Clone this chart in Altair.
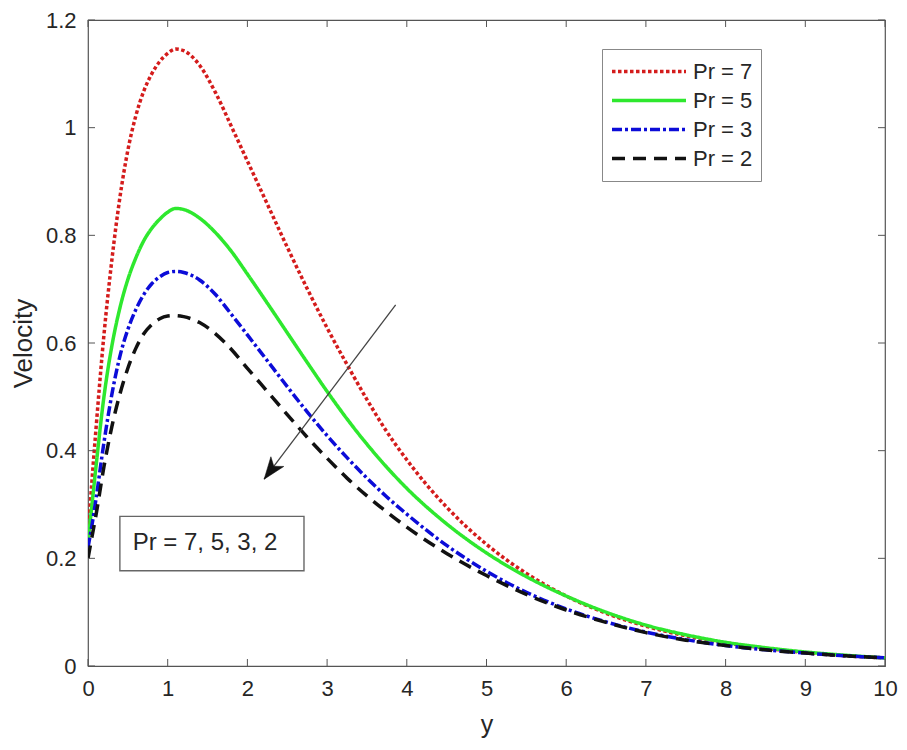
import altair as alt
import pandas as pd

# ---- data ----
Y_POS = [0, 0.05, 0.1, 0.2, 0.3, 0.4, 0.5, 0.6, 0.7, 0.8, 0.9, 1.0, 1.1, 1.2, 1.4, 1.6,
         1.8, 2.0, 2.25, 2.5, 2.75, 3.0, 3.25, 3.5, 3.75, 4.0, 4.5, 5.0, 5.5, 6.0, 6.5,
         7.0, 7.5, 8.0, 8.5, 9.0, 9.5, 10]

PR7 = [0.24, 0.345, 0.44, 0.615, 0.755, 0.87, 0.958, 1.022, 1.068, 1.10, 1.123, 1.138,
       1.146, 1.143, 1.116, 1.065, 1.002, 0.938, 0.858, 0.778, 0.701, 0.628, 0.560, 0.495,
       0.435, 0.383, 0.295, 0.226, 0.172, 0.130, 0.098, 0.074, 0.056, 0.043, 0.033, 0.025,
       0.019, 0.015]
PR5 = [0.23, 0.30, 0.37, 0.50, 0.595, 0.665, 0.718, 0.758, 0.79, 0.813, 0.83, 0.843,
       0.85, 0.848, 0.832, 0.805, 0.77, 0.728, 0.674, 0.619, 0.564, 0.51, 0.459, 0.412,
       0.369, 0.33, 0.264, 0.21, 0.166, 0.13, 0.10, 0.076, 0.058, 0.044, 0.034, 0.026,
       0.02, 0.015]
PR3 = [0.22, 0.262, 0.31, 0.415, 0.505, 0.575, 0.625, 0.662, 0.69, 0.71, 0.723, 0.731,
       0.733, 0.731, 0.717, 0.69, 0.653, 0.615, 0.567, 0.519, 0.472, 0.428, 0.387, 0.349,
       0.314, 0.282, 0.224, 0.176, 0.137, 0.106, 0.082, 0.063, 0.049, 0.038, 0.03, 0.024,
       0.019, 0.015]
PR2 = [0.20, 0.24, 0.28, 0.37, 0.445, 0.505, 0.553, 0.59, 0.617, 0.634, 0.645, 0.65,
       0.651, 0.649, 0.638, 0.617, 0.588, 0.553, 0.51, 0.467, 0.425, 0.386, 0.349, 0.316,
       0.286, 0.258, 0.209, 0.168, 0.133, 0.104, 0.081, 0.062, 0.048, 0.038, 0.03, 0.024,
       0.019, 0.015]

SERIES = ["Pr = 7", "Pr = 5", "Pr = 3", "Pr = 2"]
COLORS = ["#d41c1c", "#2ee82e", "#0c0cd8", "#111111"]
DASHES = [[3.5, 2.5], [1, 0], [10, 3, 3, 3], [13, 8]]

X_TICKS = list(range(0, 11))
Y_TICKS = [0, 0.2, 0.4, 0.6, 0.8, 1.0, 1.2]

ANNOT_TEXT = "Pr = 7, 5, 3, 2"
ANNOT_BOX = {"x": 0.4, "x2": 2.71, "y": 0.177, "y2": 0.278}
ANNOT_POS = {"x": 0.56, "y": 0.228}
ARROW = {"x": 3.86, "y": 0.671, "x2": 2.21, "y2": 0.347}

FONT = "Liberation Sans"
TXT = "#262626"
AX = "#555555"
W, H = 797, 646
TOP = 12

rows = []
for name, vals in zip(SERIES, [PR7, PR5, PR3, PR2]):
    for xv, yv in zip(Y_POS, vals):
        rows.append({"pos": xv, "vel": yv, "series": name})
df = pd.DataFrame(rows)

xs = alt.Scale(domain=[0, 10], nice=False, zero=False)
ys = alt.Scale(domain=[0, 1.2], nice=False, zero=False)

x_axis = alt.Axis(values=X_TICKS, title="y", ticks=False, domain=False, grid=False,
                  labelFlush=False, labelFontSize=22, labelFont=FONT, labelColor=TXT,
                  labelPadding=12, titleFontSize=25, titleFont=FONT, titleColor=TXT,
                  titleFontWeight="normal", titlePadding=13)
y_axis = alt.Axis(values=Y_TICKS, format="~g", title="Velocity", ticks=False, domain=False,
                  grid=False, labelFlush=False, labelFontSize=22, labelFont=FONT,
                  labelColor=TXT, labelPadding=12, titleFontSize=26, titleFont=FONT,
                  titleColor=TXT, titleFontWeight="normal", titlePadding=9)


def X(field):
    return alt.X(field, scale=xs, axis=x_axis)


def Y(field):
    return alt.Y(field, scale=ys, axis=y_axis)


legend = alt.Legend(title=None, orient="none", legendX=514, legendY=33 - (TOP - 8),
                    symbolType="stroke", symbolSize=5476, symbolStrokeWidth=3.5,
                    labelFontSize=22, labelFont=FONT, labelColor=TXT, labelOffset=5,
                    padding=8, clipHeight=29, rowPadding=0, strokeColor="#888888",
                    fillColor="white", labelLimit=300)

lines = alt.Chart(df).mark_line(strokeWidth=3.5, strokeCap="butt", interpolate="monotone",
                                clip=True).encode(
    x=X("pos:Q"),
    y=Y("vel:Q"),
    color=alt.Color("series:N", scale=alt.Scale(domain=SERIES, range=COLORS), legend=legend),
    strokeDash=alt.StrokeDash("series:N", scale=alt.Scale(domain=SERIES, range=DASHES),
                              legend=legend),
    order=alt.Order("pos:Q"),
)

box_df = pd.DataFrame([ANNOT_BOX])
box = alt.Chart(box_df).mark_rect(fill="white", stroke="#666666", strokeWidth=1.4).encode(
    x=X("x:Q"), x2="x2:Q", y=Y("y:Q"), y2="y2:Q",
)
txt_df = pd.DataFrame([{**ANNOT_POS, "t": ANNOT_TEXT}])
txt = alt.Chart(txt_df).mark_text(align="left", baseline="middle", fontSize=24, font=FONT,
                                  color=TXT).encode(x=X("x:Q"), y=Y("y:Q"), text="t:N")

arr_df = pd.DataFrame([ARROW])
arrow_line = alt.Chart(arr_df).mark_rule(color="#444444", strokeWidth=1.3).encode(
    x=X("x:Q"), y=Y("y:Q"), x2="x2:Q", y2="y2:Q")
arrow_head = alt.Chart(arr_df).mark_point(
    shape="M0,0 L0.55,1.5 L0,1.1 L-0.55,1.5 Z", filled=True, fill="#111111",
    stroke="#111111", strokeWidth=0.5, opacity=1, size=860, angle=216.87).encode(
    x=X("x2:Q"), y=Y("y2:Q"))

xt = pd.DataFrame({"t": X_TICKS})
yt = pd.DataFrame({"t": Y_TICKS})
tick_bottom = alt.Chart(xt).mark_rule(color=AX, strokeWidth=1).encode(
    x=X("t:Q"), y=alt.value(H), y2=alt.value(H - 7))
tick_top = alt.Chart(xt).mark_rule(color=AX, strokeWidth=1).encode(
    x=X("t:Q"), y=alt.value(0), y2=alt.value(7))
tick_left = alt.Chart(yt).mark_rule(color=AX, strokeWidth=1).encode(
    y=Y("t:Q"), x=alt.value(0), x2=alt.value(7))
tick_right = alt.Chart(yt).mark_rule(color=AX, strokeWidth=1).encode(
    y=Y("t:Q"), x=alt.value(W), x2=alt.value(W - 7))

chart = alt.layer(
    lines, tick_bottom, tick_top, tick_left, tick_right,
    arrow_line, arrow_head, box, txt,
).properties(
    width=W, height=H,
    autosize=alt.AutoSizeParams(type="none"),
    padding={"left": 80, "top": TOP, "right": 13, "bottom": 72},
    background="white",
).configure_view(stroke=AX, strokeWidth=1.2)

chart.save("out.html", embed_options={"renderer": "svg", "actions": False})
